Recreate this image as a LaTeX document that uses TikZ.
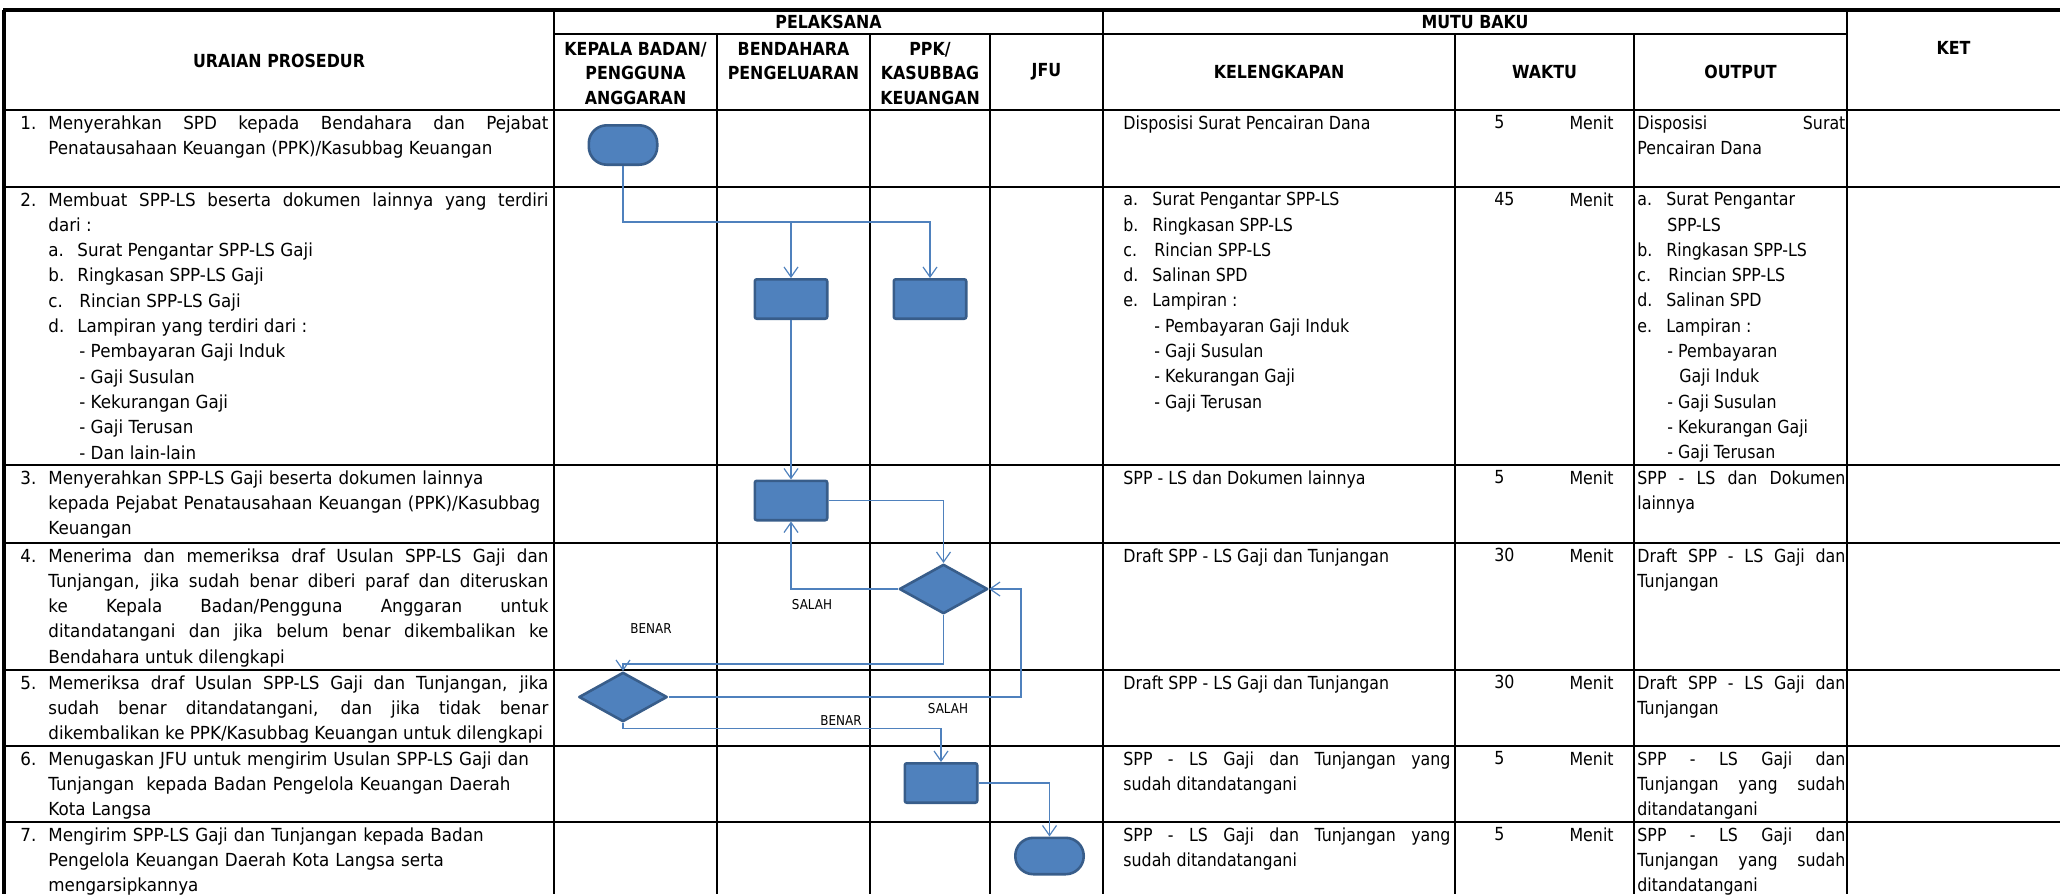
\documentclass[tikz,border=0pt]{standalone}
\usepackage{fontspec}
\setmainfont{DejaVu Sans}[FakeStretch=0.93]
\newfontfamily\mutufont{DejaVu Sans}[FakeStretch=0.88]
\usetikzlibrary{shapes.geometric,arrows.meta,positioning}

\definecolor{isian}{HTML}{4F81BD}
\definecolor{tepi}{HTML}{385D8A}
\definecolor{alurwarna}{HTML}{4F81BD}

\hyphenpenalty=10000
\exhyphenpenalty=10000
\hbadness=10000
\hfuzz=3pt

\newcommand{\isifont}{\fontsize{9}{12.65}\selectfont\parindent=0pt}
\newcommand{\nomor}[1]{\hangindent=14pt\hangafter=1\makebox[14pt][l]{#1}}
\newcommand{\butir}[3]{\par\noindent\hspace*{#1}\makebox[14.5pt][l]{#2}#3}
\newcommand{\strip}[2]{\par\noindent\hspace*{#1}- #2}

\begin{document}
\begin{tikzpicture}[x=0.5pt, y=-0.5pt,
  garistepi/.style={line width=2pt},
  garistebal/.style={line width=1.4pt},
  garis/.style={line width=1.1pt},
  garistipis/.style={line width=0.7pt},
  kepala/.style={font=\mutufont\fontsize{9}{12.25}\selectfont\bfseries, align=center, inner sep=0},
  uraian/.style={anchor=north west, inner sep=0, text width=264pt, align=justify, font=\isifont},
  mutu/.style={anchor=north west, inner sep=0, align=justify, font=\mutufont\isifont},
  waktu/.style={anchor=north west, inner sep=0, font=\mutufont\isifont},
  proses/.style={rectangle, draw=tepi, fill=isian, line width=1.3pt, minimum width=36.2pt, minimum height=19.7pt, rounded corners=1pt, inner sep=0},
  terminal/.style={proses, rounded corners=9pt, minimum width=34.2pt},
  keputusan/.style={diamond, draw=tepi, fill=isian, line width=1.3pt, line join=round, minimum width=44.2pt, minimum height=24.7pt, inner sep=0},
  alur/.style={draw=alurwarna, line width=0.6pt, -{Straight Barb[length=5pt,width=7pt]}},
  catatan/.style={font=\mutufont\fontsize{6.8}{8}\selectfont, inner sep=0}]

  \useasboundingbox (0,0) rectangle (2060,894);

  % grid of the table
  \foreach \y in {187,465,543,670,746,822}
    \draw[garistebal] (4,\y) -- (2060,\y);
  \foreach \x in {554,1103,1847}
    \draw[garis] (\x,10) -- (\x,894);
  \foreach \x in {717,870,990}
    \draw[garis] (\x,34) -- (\x,894);
  \foreach \x in {1455,1634}
    \draw[garistipis] (\x,34) -- (\x,894);
  \draw[garistepi] (4,10) -- (4,894);
  \draw[garistepi] (3,10) -- (2060,10);
  \draw[garis] (554,34) -- (1847,34);
  \draw[garistebal] (4,110) -- (2060,110);

  % header
  \node[kepala] (hUraian) at (279,61) {URAIAN PROSEDUR};
  \node[kepala] (hPelaksana) at (828.5,22) {PELAKSANA};
  \node[kepala] (hMutu) at (1475,22) {MUTU BAKU};
  \node[kepala] (hKet) at (1953.5,48) {KET};
  \node[kepala] (hKepala) at (635.5,73.5) {KEPALA BADAN/\\PENGGUNA\\ANGGARAN};
  \node[kepala] (hBendahara) at (793.5,61) {BENDAHARA\\PENGELUARAN};
  \node[kepala] (hPpk) at (930,73.5) {PPK/\\KASUBBAG\\KEUANGAN};
  \node[kepala] (hJfu) at (1046.5,72) {JFU};
  \node[kepala] (hKelengkapan) at (1279,72) {KELENGKAPAN};
  \node[kepala] (hWaktu) at (1544.5,72) {WAKTU};
  \node[kepala] (hOutput) at (1740.5,72) {OUTPUT};

  % uraian prosedur
  \node[uraian] (u1) at (20,115) {\nomor{1.}Menyerahkan SPD kepada Bendahara dan Pejabat\linebreak Penatausahaan Keuangan (PPK)/Kasubbag Keuangan\par};
  \node[uraian] (u2) at (20,192) {\nomor{2.}Membuat SPP-LS beserta dokumen lainnya yang terdiri\linebreak dari :
    \butir{14pt}{a.}{Surat Pengantar SPP-LS Gaji}
    \butir{14pt}{b.}{Ringkasan SPP-LS Gaji}
    \butir{14pt}{c.}{\hspace{1pt}Rincian SPP-LS Gaji}
    \butir{14pt}{d.}{Lampiran yang terdiri dari :}
    \strip{29.5pt}{Pembayaran Gaji Induk}
    \strip{29.5pt}{Gaji Susulan}
    \strip{29.5pt}{Kekurangan Gaji}
    \strip{29.5pt}{Gaji Terusan}
    \strip{29.5pt}{Dan lain-lain}\par};
  \node[uraian, align=left] (u3) at (20,470) {\nomor{3.}Menyerahkan SPP-LS Gaji beserta dokumen lainnya\newline kepada Pejabat Penatausahaan Keuangan (PPK)/Kasubbag\newline Keuangan\par};
  \node[uraian] (u4) at (20,548) {\nomor{4.}Menerima dan memeriksa draf Usulan SPP-LS Gaji dan\linebreak Tunjangan, jika sudah benar diberi paraf dan diteruskan\linebreak ke Kepala Badan/Pengguna Anggaran untuk\linebreak ditandatangani dan jika belum benar dikembalikan ke\linebreak Bendahara untuk dilengkapi\par};
  \node[uraian] (u5) at (20,675) {\nomor{5.}Memeriksa draf Usulan SPP-LS Gaji dan Tunjangan, jika\linebreak sudah benar ditandatangani, dan jika tidak benar\linebreak dikembalikan ke PPK/Kasubbag Keuangan untuk dilengkapi\par};
  \node[uraian, align=left] (u6) at (20,751) {\nomor{6.}Menugaskan JFU untuk mengirim Usulan SPP-LS Gaji dan\newline Tunjangan\ \ kepada Badan Pengelola Keuangan Daerah\newline Kota Langsa\par};
  \node[uraian, align=left] (u7) at (20,827) {\nomor{7.}Mengirim SPP-LS Gaji dan Tunjangan kepada Badan\newline Pengelola Keuangan Daerah Kota Langsa serta\newline mengarsipkannya\par};

  % kelengkapan
  \node[mutu, text width=163.5pt] (k1) at (1123,115) {Disposisi Surat Pencairan Dana};
  \node[mutu, text width=163.5pt] (k2) at (1123,192) {\makebox[14.5pt][l]{a.}Surat Pengantar SPP-LS
    \butir{0pt}{b.}{Ringkasan SPP-LS}
    \butir{0pt}{c.}{\hspace{1pt}Rincian SPP-LS}
    \butir{0pt}{d.}{Salinan SPD}
    \butir{0pt}{e.}{Lampiran :}
    \strip{15.5pt}{Pembayaran Gaji Induk}
    \strip{15.5pt}{Gaji Susulan}
    \strip{15.5pt}{Kekurangan Gaji}
    \strip{15.5pt}{Gaji Terusan}};
  \node[mutu, text width=163.5pt] (k3) at (1123,470) {SPP - LS dan Dokumen lainnya};
  \node[mutu, text width=163.5pt] (k4) at (1123,548) {Draft SPP - LS Gaji dan Tunjangan};
  \node[mutu, text width=163.5pt] (k5) at (1123,675) {Draft SPP - LS Gaji dan Tunjangan};
  \node[mutu, text width=163.5pt] (k6) at (1123,751) {SPP - LS Gaji dan Tunjangan yang\linebreak sudah ditandatangani};
  \node[mutu, text width=163.5pt] (k7) at (1123,827) {SPP - LS Gaji dan Tunjangan yang\linebreak sudah ditandatangani};

  % waktu
  \foreach \t/\n [count=\i] in {115/5, 192/45, 470/5, 548/30, 675/30, 751/5, 827/5} {
    \node[waktu] (angka\i) at (1494,\t) {\n};
    \node[waktu, anchor=north east] (menit\i) at (1614,\t) {Menit};
  }

  % output
  \node[mutu, text width=104pt] (o1) at (1637,115) {Disposisi Surat\linebreak Pencairan Dana};
  \node[mutu, text width=104pt] (o2) at (1637,192) {\makebox[14.5pt][l]{a.}Surat Pengantar
    \par\noindent\hspace*{15pt}SPP-LS
    \butir{0pt}{b.}{Ringkasan SPP-LS}
    \butir{0pt}{c.}{\hspace{1pt}Rincian SPP-LS}
    \butir{0pt}{d.}{Salinan SPD}
    \butir{0pt}{e.}{Lampiran :}
    \strip{15pt}{Pembayaran}
    \par\noindent\hspace*{21pt}Gaji Induk
    \strip{15pt}{Gaji Susulan}
    \strip{15pt}{Kekurangan Gaji}
    \strip{15pt}{Gaji Terusan}};
  \node[mutu, text width=104pt] (o3) at (1637,470) {SPP - LS dan Dokumen\linebreak lainnya};
  \node[mutu, text width=104pt] (o4) at (1637,548) {Draft SPP - LS Gaji dan\linebreak Tunjangan};
  \node[mutu, text width=104pt] (o5) at (1637,675) {Draft SPP - LS Gaji dan\linebreak Tunjangan};
  \node[mutu, text width=104pt] (o6) at (1637,751) {SPP - LS Gaji dan\linebreak Tunjangan yang sudah\linebreak ditandatangani};
  \node[mutu, text width=104pt] (o7) at (1637,827) {SPP - LS Gaji dan\linebreak Tunjangan yang sudah\linebreak ditandatangani};

  % flowchart
  \node[terminal] (mulai) at (623,145) {};
  \node[proses] (bendA) at (791,299) {};
  \node[proses] (ppkA) at (930,299) {};
  \node[proses] (bendB) at (791,500.5) {};
  \node[keputusan] (cekPpk) at (943.5,589) {};
  \node[keputusan] (cekKepala) at (623,697) {};
  \node[proses] (ppkB) at (941,783) {};
  \node[terminal, minimum height=18.2pt] (selesai) at (1049.5,856) {};

  \coordinate (cabang) at (623,222);
  \draw[alur] (mulai.south) -- (cabang) -| (ppkA.north);
  \draw[alur] (cabang -| bendA.north) -- (bendA.north);
  \draw[alur] (bendA.south) -- (bendB.north);
  \draw[alur] (bendB.east) -| (cekPpk.north);
  \draw[alur] (cekPpk.west) -| (bendB.south);
  \draw[alur] (cekPpk.south) -- ++(0,49) -| (cekKepala.north);
  \draw[alur] (cekKepala.east) -| ([xshift=16pt]cekPpk.east) -- (cekPpk.east);
  \draw[alur] (cekKepala.south) -- ++(0,5.5) -| (ppkB.north);
  \draw[alur] (ppkB.east) -| (selesai.north);

  \node[catatan] (salah1) at (812,605) {SALAH};
  \node[catatan] (benar1) at (651,629) {BENAR};
  \node[catatan] (salah2) at (948,709) {SALAH};
  \node[catatan] (benar2) at (841,721) {BENAR};
\end{tikzpicture}
\end{document}
